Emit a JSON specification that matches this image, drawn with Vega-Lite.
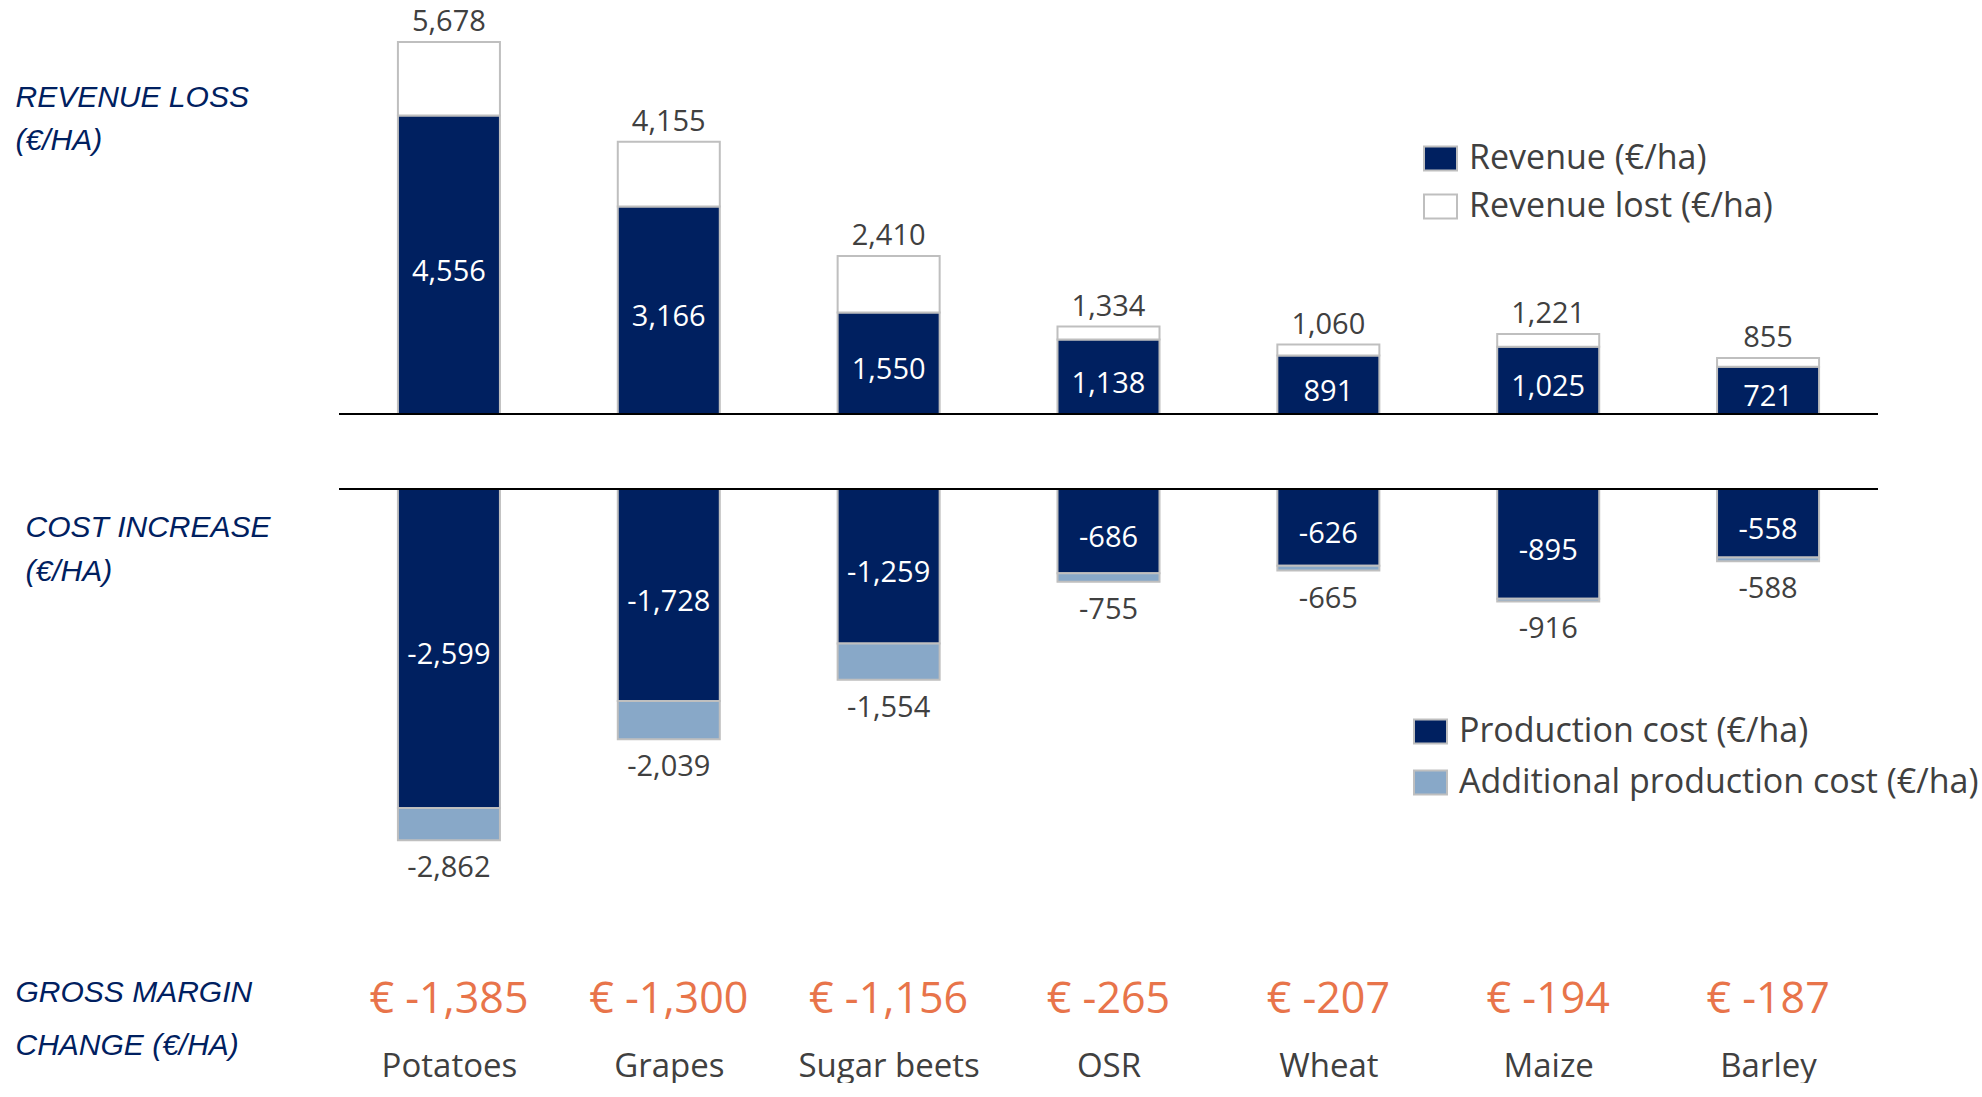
{
  "$schema": "https://vega.github.io/schema/vega-lite/v6.json",
  "padding": {"left": 15, "top": 0, "right": 0, "bottom": 0},
  "background": "white",
  "datasets": {
    "crops": [
      {"crop": "Potatoes", "revenue": 4556, "potential": 5678, "prodCost": -2599, "totalCost": -2862, "margin": "€ -1,385"},
      {"crop": "Grapes", "revenue": 3166, "potential": 4155, "prodCost": -1728, "totalCost": -2039, "margin": "€ -1,300"},
      {"crop": "Sugar beets", "revenue": 1550, "potential": 2410, "prodCost": -1259, "totalCost": -1554, "margin": "€ -1,156"},
      {"crop": "OSR", "revenue": 1138, "potential": 1334, "prodCost": -686, "totalCost": -755, "margin": "€ -265"},
      {"crop": "Wheat", "revenue": 891, "potential": 1060, "prodCost": -626, "totalCost": -665, "margin": "€ -207"},
      {"crop": "Maize", "revenue": 1025, "potential": 1221, "prodCost": -895, "totalCost": -916, "margin": "€ -194"},
      {"crop": "Barley", "revenue": 721, "potential": 855, "prodCost": -558, "totalCost": -588, "margin": "€ -187"}
    ]
  },
  "spacing": 75,
  "bounds": "flush",
  "resolve": {"scale": {"color": "independent"}, "legend": {"color": "independent"}},
  "config": {
    "view": {"stroke": null},
    "font": "Open Sans",
    "locale": {"number": {"decimal": ".", "thousands": ",", "grouping": [3], "currency": ["€", ""], "minus": "-"}}
  },
  "vconcat": [
    {
      "width": 1539,
      "height": 414,
      "data": {"name": "crops"},
      "layer": [
        {
          "mark": {"type": "bar", "stroke": "#BFBFBF", "strokeWidth": 2},
          "encoding": {
            "x": {"field": "crop", "type": "nominal", "sort": ["Potatoes", "Grapes", "Sugar beets", "OSR", "Wheat", "Maize", "Barley"], "scale": {"paddingInner": 0.536, "paddingOuter": 0.268}, "axis": null},
            "y": {"field": "revenue", "type": "quantitative", "stack": null, "scale": {"domain": [0, 6318], "nice": false}, "axis": {"title": ["REVENUE LOSS", "(€/HA)"], "labels": false, "ticks": false, "domain": false, "grid": false, "offset": 0, "titleAngle": 0, "titleAlign": "left", "titleBaseline": "top", "titleX": -324, "titleY": 82, "titleFont": "Liberation Sans", "titleFontSize": 30, "titleFontStyle": "italic", "titleFontWeight": "normal", "titleColor": "#002060", "titleLineHeight": 43}},
            "color": {"datum": "Revenue (€/ha)", "type": "nominal", "scale": {"domain": ["Revenue (€/ha)", "Revenue lost (€/ha)"], "range": ["#002060", "#FFFFFF"]}, "legend": {"title": null, "orient": "none", "legendX": 1084, "legendY": 141, "direction": "vertical", "labelFontSize": 34, "labelFont": "Open Sans", "labelColor": "#404040", "symbolType": "M-1,-0.727H1V0.727H-1Z", "symbolSize": 1089, "symbolStrokeColor": "#BFBFBF", "symbolStrokeWidth": 2, "labelOffset": 11, "rowPadding": 13, "padding": 0, "labelLimit": 0}}
          }
        },
        {
          "mark": {"type": "bar", "stroke": "#BFBFBF", "strokeWidth": 2},
          "encoding": {
            "x": {"field": "crop", "type": "nominal", "sort": ["Potatoes", "Grapes", "Sugar beets", "OSR", "Wheat", "Maize", "Barley"], "scale": {"paddingInner": 0.536, "paddingOuter": 0.268}, "axis": null},
            "y": {"field": "potential", "type": "quantitative", "stack": null, "scale": {"domain": [0, 6318], "nice": false}, "axis": {"title": ["REVENUE LOSS", "(€/HA)"], "labels": false, "ticks": false, "domain": false, "grid": false, "offset": 0, "titleAngle": 0, "titleAlign": "left", "titleBaseline": "top", "titleX": -324, "titleY": 82, "titleFont": "Liberation Sans", "titleFontSize": 30, "titleFontStyle": "italic", "titleFontWeight": "normal", "titleColor": "#002060", "titleLineHeight": 43}},
            "y2": {"field": "revenue"},
            "color": {"datum": "Revenue lost (€/ha)", "type": "nominal"}
          }
        },
        {
          "mark": {"type": "text", "color": "white", "fontSize": 29, "baseline": "middle", "dy": 7},
          "encoding": {
            "x": {"field": "crop", "type": "nominal", "sort": ["Potatoes", "Grapes", "Sugar beets", "OSR", "Wheat", "Maize", "Barley"], "axis": null},
            "y": {"field": "revenue", "type": "quantitative", "stack": "zero", "bandPosition": 0.5, "scale": {"domain": [0, 6318], "nice": false}, "axis": {"title": ["REVENUE LOSS", "(€/HA)"], "labels": false, "ticks": false, "domain": false, "grid": false, "offset": 0, "titleAngle": 0, "titleAlign": "left", "titleBaseline": "top", "titleX": -324, "titleY": 82, "titleFont": "Liberation Sans", "titleFontSize": 30, "titleFontStyle": "italic", "titleFontWeight": "normal", "titleColor": "#002060", "titleLineHeight": 43}},
            "detail": {"field": "crop"},
            "text": {"field": "revenue", "type": "quantitative", "format": ",d"}
          }
        },
        {
          "mark": {"type": "text", "color": "#404040", "fontSize": 29, "baseline": "alphabetic", "dy": -11},
          "encoding": {
            "x": {"field": "crop", "type": "nominal", "sort": ["Potatoes", "Grapes", "Sugar beets", "OSR", "Wheat", "Maize", "Barley"], "axis": null},
            "y": {"field": "potential", "type": "quantitative", "stack": null, "scale": {"domain": [0, 6318], "nice": false}, "axis": {"title": ["REVENUE LOSS", "(€/HA)"], "labels": false, "ticks": false, "domain": false, "grid": false, "offset": 0, "titleAngle": 0, "titleAlign": "left", "titleBaseline": "top", "titleX": -324, "titleY": 82, "titleFont": "Liberation Sans", "titleFontSize": 30, "titleFontStyle": "italic", "titleFontWeight": "normal", "titleColor": "#002060", "titleLineHeight": 43}},
            "text": {"field": "potential", "type": "quantitative", "format": ",d"}
          }
        },
        {
          "mark": {"type": "rule", "color": "black", "strokeWidth": 2},
          "encoding": {
            "y": {"datum": 0, "type": "quantitative", "scale": {"domain": [0, 6318], "nice": false}, "axis": {"title": ["REVENUE LOSS", "(€/HA)"], "labels": false, "ticks": false, "domain": false, "grid": false, "offset": 0, "titleAngle": 0, "titleAlign": "left", "titleBaseline": "top", "titleX": -324, "titleY": 82, "titleFont": "Liberation Sans", "titleFontSize": 30, "titleFontStyle": "italic", "titleFontWeight": "normal", "titleColor": "#002060", "titleLineHeight": 43}}
          }
        }
      ]
    },
    {
      "width": 1539,
      "height": 400,
      "data": {"name": "crops"},
      "layer": [
        {
          "mark": {"type": "bar", "stroke": "#BFBFBF", "strokeWidth": 2},
          "encoding": {
            "x": {"field": "crop", "type": "nominal", "sort": ["Potatoes", "Grapes", "Sugar beets", "OSR", "Wheat", "Maize", "Barley"], "scale": {"paddingInner": 0.536, "paddingOuter": 0.268}, "axis": null},
            "y": {"field": "prodCost", "type": "quantitative", "stack": null, "scale": {"domain": [-3260, 0], "nice": false}, "axis": {"title": ["COST INCREASE", "(€/HA)"], "labels": false, "ticks": false, "domain": false, "grid": false, "offset": 0, "titleAngle": 0, "titleAlign": "left", "titleBaseline": "top", "titleX": -314, "titleY": 23, "titleFont": "Liberation Sans", "titleFontSize": 30, "titleFontStyle": "italic", "titleFontWeight": "normal", "titleColor": "#002060", "titleLineHeight": 44}},
            "color": {"datum": "Production cost (€/ha)", "type": "nominal", "scale": {"domain": ["Production cost (€/ha)", "Additional production cost (€/ha)"], "range": ["#002060", "#88A8C8"]}, "legend": {"title": null, "orient": "none", "legendX": 1074, "legendY": 225, "direction": "vertical", "labelFontSize": 34, "labelFont": "Open Sans", "labelColor": "#404040", "symbolType": "M-1,-0.727H1V0.727H-1Z", "symbolSize": 1089, "symbolStrokeColor": "#BFBFBF", "symbolStrokeWidth": 2, "labelOffset": 11, "rowPadding": 16, "padding": 0, "labelLimit": 0}}
          }
        },
        {
          "mark": {"type": "bar", "stroke": "#BFBFBF", "strokeWidth": 2},
          "encoding": {
            "x": {"field": "crop", "type": "nominal", "sort": ["Potatoes", "Grapes", "Sugar beets", "OSR", "Wheat", "Maize", "Barley"], "scale": {"paddingInner": 0.536, "paddingOuter": 0.268}, "axis": null},
            "y": {"field": "totalCost", "type": "quantitative", "stack": null, "scale": {"domain": [-3260, 0], "nice": false}, "axis": {"title": ["COST INCREASE", "(€/HA)"], "labels": false, "ticks": false, "domain": false, "grid": false, "offset": 0, "titleAngle": 0, "titleAlign": "left", "titleBaseline": "top", "titleX": -314, "titleY": 23, "titleFont": "Liberation Sans", "titleFontSize": 30, "titleFontStyle": "italic", "titleFontWeight": "normal", "titleColor": "#002060", "titleLineHeight": 44}},
            "y2": {"field": "prodCost"},
            "color": {"datum": "Additional production cost (€/ha)", "type": "nominal"}
          }
        },
        {
          "mark": {"type": "text", "color": "white", "fontSize": 29, "baseline": "middle", "dy": 7},
          "encoding": {
            "x": {"field": "crop", "type": "nominal", "sort": ["Potatoes", "Grapes", "Sugar beets", "OSR", "Wheat", "Maize", "Barley"], "axis": null},
            "y": {"field": "prodCost", "type": "quantitative", "stack": "zero", "bandPosition": 0.5, "scale": {"domain": [-3260, 0], "nice": false}, "axis": {"title": ["COST INCREASE", "(€/HA)"], "labels": false, "ticks": false, "domain": false, "grid": false, "offset": 0, "titleAngle": 0, "titleAlign": "left", "titleBaseline": "top", "titleX": -314, "titleY": 23, "titleFont": "Liberation Sans", "titleFontSize": 30, "titleFontStyle": "italic", "titleFontWeight": "normal", "titleColor": "#002060", "titleLineHeight": 44}},
            "detail": {"field": "crop"},
            "text": {"field": "prodCost", "type": "quantitative", "format": ",d"}
          }
        },
        {
          "mark": {"type": "text", "color": "#404040", "fontSize": 29, "baseline": "top", "dy": 14},
          "encoding": {
            "x": {"field": "crop", "type": "nominal", "sort": ["Potatoes", "Grapes", "Sugar beets", "OSR", "Wheat", "Maize", "Barley"], "axis": null},
            "y": {"field": "totalCost", "type": "quantitative", "stack": null, "scale": {"domain": [-3260, 0], "nice": false}, "axis": {"title": ["COST INCREASE", "(€/HA)"], "labels": false, "ticks": false, "domain": false, "grid": false, "offset": 0, "titleAngle": 0, "titleAlign": "left", "titleBaseline": "top", "titleX": -314, "titleY": 23, "titleFont": "Liberation Sans", "titleFontSize": 30, "titleFontStyle": "italic", "titleFontWeight": "normal", "titleColor": "#002060", "titleLineHeight": 44}},
            "text": {"field": "totalCost", "type": "quantitative", "format": ",d"}
          }
        },
        {
          "mark": {"type": "rule", "color": "black", "strokeWidth": 2},
          "encoding": {
            "y": {"datum": 0, "type": "quantitative", "scale": {"domain": [-3260, 0], "nice": false}, "axis": {"title": ["COST INCREASE", "(€/HA)"], "labels": false, "ticks": false, "domain": false, "grid": false, "offset": 0, "titleAngle": 0, "titleAlign": "left", "titleBaseline": "top", "titleX": -314, "titleY": 23, "titleFont": "Liberation Sans", "titleFontSize": 30, "titleFontStyle": "italic", "titleFontWeight": "normal", "titleColor": "#002060", "titleLineHeight": 44}}
          }
        }
      ]
    },
    {
      "width": 1539,
      "height": 66,
      "data": {"name": "crops"},
      "mark": {"type": "text", "color": "#E8744A", "fontSize": 43, "baseline": "middle", "dy": 3},
      "encoding": {
        "x": {"field": "crop", "type": "nominal", "sort": ["Potatoes", "Grapes", "Sugar beets", "OSR", "Wheat", "Maize", "Barley"], "scale": {"paddingInner": 0.536, "paddingOuter": 0.268}, "axis": {"orient": "bottom", "title": null, "domain": false, "ticks": false, "tickSize": 0, "labelPadding": 20, "labelFontSize": 33, "labelFont": "Open Sans", "labelColor": "#404040", "labelAngle": 0, "grid": false, "labelLimit": 0}},
        "y": {"datum": 0, "type": "quantitative", "scale": {"domain": [-1, 1], "nice": false}, "axis": {"title": ["GROSS MARGIN", "CHANGE (€/HA)"], "labels": false, "ticks": false, "domain": false, "grid": false, "offset": 0, "titleAngle": 0, "titleAlign": "left", "titleBaseline": "top", "titleX": -324, "titleY": 13, "titleFont": "Liberation Sans", "titleFontSize": 30, "titleFontStyle": "italic", "titleFontWeight": "normal", "titleColor": "#002060", "titleLineHeight": 53}},
        "text": {"field": "margin", "type": "nominal"}
      }
    }
  ]
}
